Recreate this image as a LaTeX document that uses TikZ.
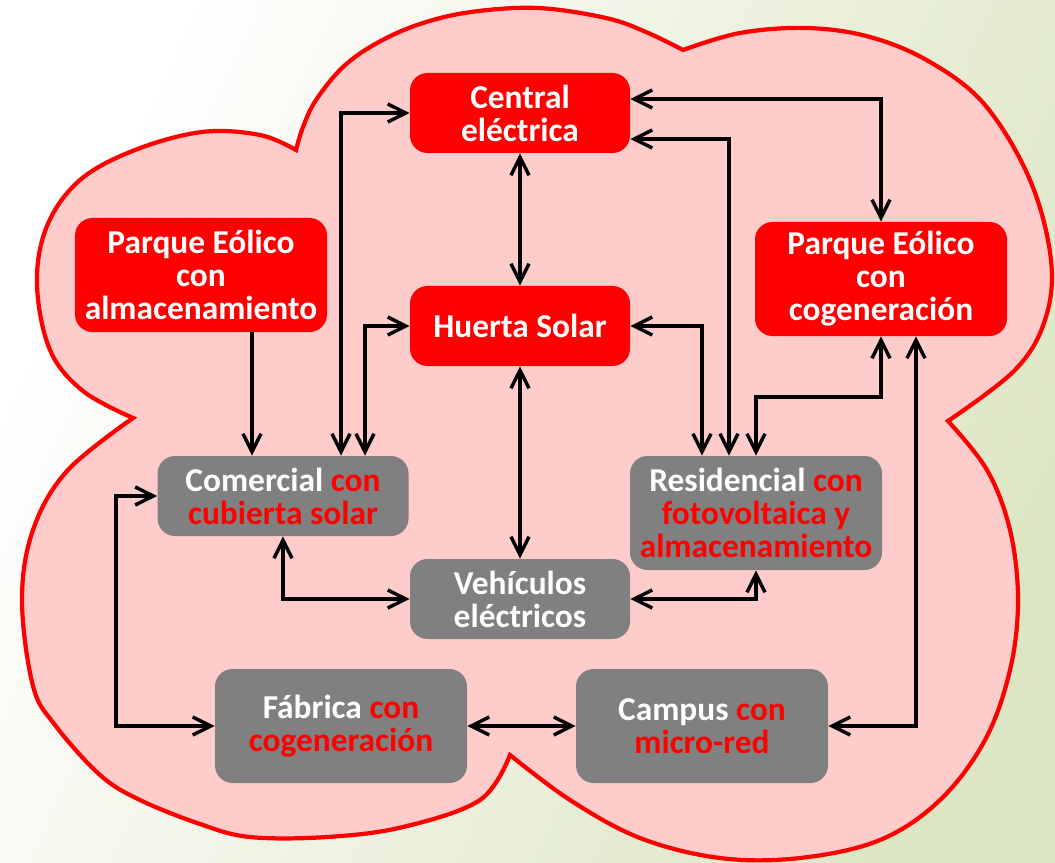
\documentclass[tikz,border=0pt]{standalone}
\usepackage{fontspec}
\setmainfont{Carlito}
\usetikzlibrary{arrows.meta}

\definecolor{rojo}{RGB}{255,0,0}
\definecolor{gris}{RGB}{128,128,128}
\definecolor{rosa}{RGB}{255,204,204}
\definecolor{fondo}{RGB}{221,230,196}
\newcommand{\rj}[1]{\textcolor{rojo}{#1}}

\begin{document}
\begin{tikzpicture}[
  x=0.2mm, y=-0.2mm,
  >={Straight Barb[length=3.6mm, width=3.6mm]},
  caja/.style={rounded corners=3.5mm, inner sep=0pt, align=center, text=white,
    font=\fontsize{19}{18.8}\selectfont\bfseries},
  caja roja/.style={caja, fill=rojo},
  caja gris/.style={caja, fill=gris},
  corta/.style={minimum width=44mm, minimum height=16mm},
  baja/.style={minimum width=50.2mm, minimum height=16mm},
  alta/.style={minimum width=50.4mm, minimum height=22.8mm},
  flecha/.style={draw=black, line width=2pt}
]
  \useasboundingbox (0,0) rectangle (1055,863);

  % ==========================================
  % 1. FONDO Y NUBE
  % ==========================================
  \shade[top color=white, bottom color=fondo, shading angle=65] (0,0) rectangle (1055,863);

  % la nube: cinco lobulos suaves unidos en picos
  \draw[rojo, line width=2.4pt, fill=rosa]
    plot [smooth, tension=0.6] coordinates {
      (296,150) (303,127) (316,100) (343,67) (377,43) (420,24) (471,12)
      (538,8) (606,18) (646,32) (683,50)
    }
    -- plot [smooth, tension=0.6] coordinates {
      (683,50) (740,33) (807,28) (870,37) (930,62) (985,105) (1030,180)
      (1051,260) (1045,320) (1015,370) (948,421)
    }
    -- plot [smooth, tension=0.6] coordinates {
      (948,421) (987,470) (1010,530) (1018,600) (1010,670) (985,740)
      (940,800) (880,840) (800,858) (720,858) (640,838) (570,800) (510,755)
    }
    -- plot [smooth, tension=0.6] coordinates {
      (510,755) (480,800) (403,827) (327,837) (250,837) (200,824) (140,800)
      (100,775) (55,725) (33,686) (22,600) (33,530) (67,471) (133,418)
    }
    -- plot [smooth, tension=0.6] coordinates {
      (133,418) (83,391) (50,350) (37,284) (47,226) (80,180) (135,150)
      (202,132) (260,135) (296,150)
    } -- cycle;

  % ==========================================
  % 2. CAJAS
  % ==========================================
  \node[caja roja, corta] (cen) at (520,113) {Central\\eléctrica};
  \node[caja roja, corta] (hue) at (520,326) {Huerta Solar};
  \node[caja gris, corta] (veh) at (520,599) {Vehículos\\eléctricos};
  \node[caja roja, alta]  (pal) at (201,275) {Parque Eólico\\con\\almacenamiento};
  \node[caja roja, alta]  (par) at (881,279) {Parque Eólico\\con\\cogeneración};
  \node[caja gris, baja]  (com) at (283,496) {Comercial \rj{con}\\\rj{cubierta solar}};
  \node[caja gris, alta]  (res) at (756,513) {Residencial \rj{con}\\\rj{fotovoltaica y}\\\rj{almacenamiento}};
  \node[caja gris, alta]  (fab) at (341,726) {Fábrica \rj{con}\\\rj{cogeneración}};
  \node[caja gris, alta]  (cam) at (702,726) {Campus \rj{con}\\\rj{micro-red}};

  % carriles de las flechas
  \coordinate (cEo) at (252,0);
  \coordinate (cCe) at (341,0);
  \coordinate (cHu) at (365,0);
  \coordinate (cIz) at (116,0);
  \coordinate (cHr) at (702,0);
  \coordinate (cCr) at (729,0);
  \coordinate (cDe) at (916,0);
  \coordinate (yA) at (0,99);
  \coordinate (yB) at (0,139);
  \coordinate (yC) at (0,397);

  % ==========================================
  % 3. FLECHAS
  % ==========================================
  \draw[flecha, ->]  (pal.south -| cEo) -- (com.north -| cEo);
  \draw[flecha, <->] (com.north -| cCe) |- (cen.west);
  \draw[flecha, <->] (com.north -| cHu) |- (hue.west);
  \draw[flecha, <->] (com.south) |- (veh.west);
  \draw[flecha, <->] (com.west) -- (com.west -| cIz) |- (fab.west);
  \draw[flecha, <->] (cen.south) -- (hue.north);
  \draw[flecha, <->] (hue.south) -- (veh.north);
  \draw[flecha, <->] (fab.east) -- (cam.west);
  \draw[flecha, <->] (cen.east |- yA) -| (par.north);
  \draw[flecha, <->] (cen.east |- yB) -| (res.north -| cCr);
  \draw[flecha, <->] (hue.east) -| (res.north -| cHr);
  \draw[flecha, <->] (par.south) -- (par.south |- yC) -| (res.north);
  \draw[flecha, <->] (par.south -| cDe) |- (cam.east);
  \draw[flecha, <->] (res.south) |- (veh.east);

\end{tikzpicture}
\end{document}
